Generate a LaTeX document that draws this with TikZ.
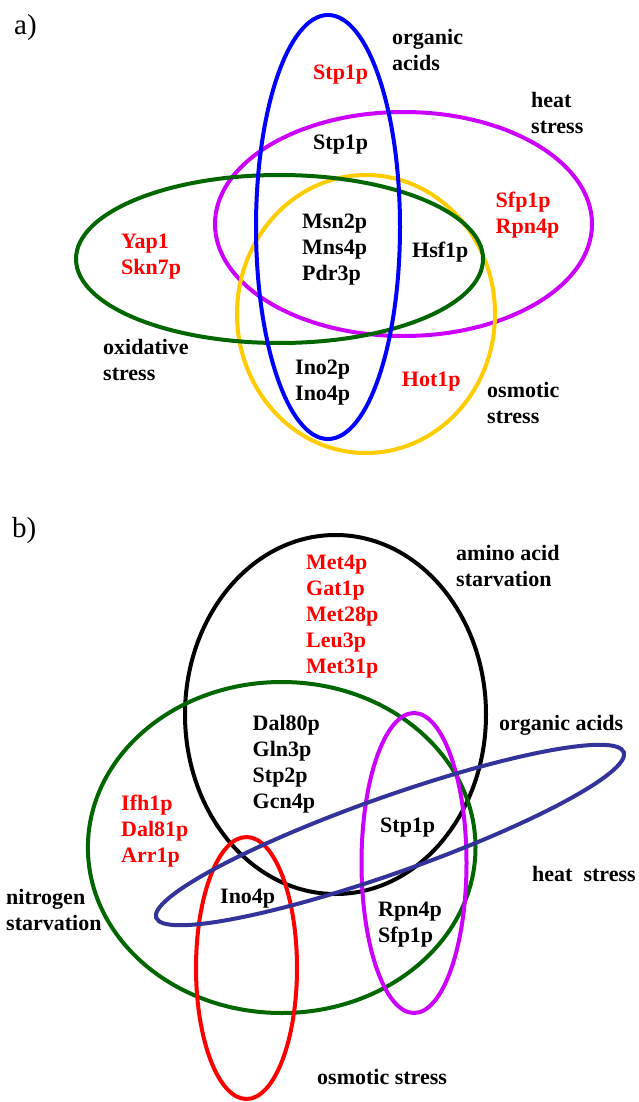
\documentclass[tikz,border=0pt]{standalone}
\usepackage{fontspec}
\setmainfont{Liberation Serif}
\definecolor{vgreen}{RGB}{0,102,0}
\definecolor{vmag}{RGB}{204,0,255}
\definecolor{vgold}{RGB}{255,204,0}
\definecolor{vnavy}{RGB}{51,51,153}
\definecolor{vred}{RGB}{255,0,0}
\definecolor{vblue}{RGB}{0,0,255}
\tikzset{
  ring/.style={line width=4pt},
  lbl/.style={font=\fontsize{22}{26}\selectfont\bfseries, anchor=north west, align=left, inner sep=0pt},
  hit/.style={lbl, text=vred},
  panel/.style={font=\fontsize{29}{32}\selectfont, anchor=west, inner sep=0pt}
}
\begin{document}
\begin{tikzpicture}[x=1pt,y=-1pt]
\fill[white] (0,0) rectangle (638,1102);
\useasboundingbox (0,0) rectangle (638,1102);

% ---------- panel a ----------
\node[panel] (pa) at (14,28) {a)};
\draw[ring,vmag]   (403.5,224) ellipse [x radius=188.5pt, y radius=112pt];
\draw[ring,vgold]  (366,314)   ellipse [x radius=129pt,   y radius=139pt];
\draw[ring,vgreen] (279.5,259) ellipse [x radius=203.5pt, y radius=84pt];
\draw[ring,vblue]  (328,227)   ellipse [x radius=72pt,    y radius=212pt];

\node[lbl] (orgA)  at (392,29)  {organic\\acids};
\node[hit] (stpA1) at (313,65)  {Stp1p};
\node[lbl] (heatA) at (531,92)  {heat\\stress};
\node[lbl] (stpA2) at (313,135) {Stp1p};
\node[hit] (sfpA)  at (495.5,192) {Sfp1p\\Rpn4p};
\node[hit] (yapA)  at (121,234) {Yap1\\Skn7p};
\node[lbl] (msnA)  at (302,214) {Msn2p\\Mns4p\\Pdr3p};
\node[lbl] (hsfA)  at (412,242) {Hsf1p};
\node[lbl] (oxA)   at (103,339) {oxidative\\stress};
\node[lbl] (inoA)  at (295,360) {Ino2p\\Ino4p};
\node[hit] (hotA)  at (401.7,372) {Hot1p};
\node[lbl] (osmA)  at (487,382) {osmotic\\stress};

% ---------- panel b ----------
\node[panel] (pb) at (12,531) {b)};
\draw[ring,black]  (335.5,714.5) ellipse [x radius=150.5pt, y radius=179.5pt];
\draw[ring,vgreen] (281.7,847.5) ellipse [x radius=193.8pt, y radius=165.5pt];
\draw[ring,vmag]   (414,863)     ellipse [x radius=52.5pt,  y radius=150pt];
\draw[ring,vred]   (246.5,968)   ellipse [x radius=50.5pt,  y radius=131pt];
\draw[ring,vnavy,rotate around={19.5:(390,835)}] (390,835) ellipse [x radius=248pt, y radius=38pt];

\node[lbl] (aaB)   at (456,545) {amino acid\\starvation};
\node[hit] (metB)  at (306,555) {Met4p\\Gat1p\\Met28p\\Leu3p\\Met31p};
\node[lbl] (dalB)  at (252.5,715) {Dal80p\\Gln3p\\Stp2p\\Gcn4p};
\node[lbl] (orgB)  at (499,715) {organic acids};
\node[hit] (ifhB)  at (121,795) {Ifh1p\\Dal81p\\Arr1p};
\node[lbl] (stpB)  at (380,818) {Stp1p};
\node[lbl] (heatB) at (532,866) {heat~~stress};
\node[lbl] (nitB)  at (6,889)   {nitrogen\\starvation};
\node[lbl] (inoB)  at (220,889) {Ino4p};
\node[lbl] (rpnB)  at (378,902) {Rpn4p\\Sfp1p};
\node[lbl] (osmB)  at (317,1069) {osmotic stress};
\end{tikzpicture}
\end{document}
